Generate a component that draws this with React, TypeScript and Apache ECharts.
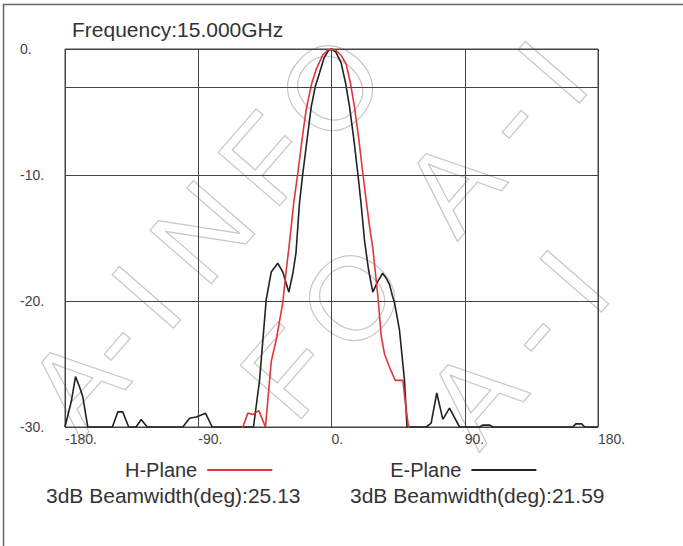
import React, { useEffect, useRef } from "react";
import * as echarts from "echarts";

// H-Plane (red) pattern: angle (deg) and gain (dB)
const hAngles = [
  -180, -62, -59.9, -56.5, -53.2, -49.1, -44.6, -40.7, -37.4, -33, -30.5, -28.5, -25.5, -22.8,
  -20, -17.1, -13.5, -10.3, -6, -2.5, 0, 3, 6.5, 9.9, 12.8, 15.5, 18.5, 21.2, 23.4, 25.6, 27.9,
  29.5, 31.3, 33.6, 35.8, 39, 43, 48.2, 50, 52, 52.8, 180,
];
const hDb = [
  -31, -31, -30, -28.9, -29.0, -28.7, -30, -24.8, -23.1, -20.2, -17.5, -15.5, -12.2, -9.9,
  -7.3, -4.8, -2.8, -1.6, -0.5, -0.08, 0, -0.1, -0.5, -1.2, -2.7, -4.6, -7.2, -9.9, -12, -14,
  -15.8, -17.6, -19.6, -22.8, -24.2, -25.2, -26.3, -26.3, -28.2, -30, -31, -31,
];

// E-Plane (black) pattern: angle (deg) and gain (dB)
const eAngles = [
  -180, -175.8, -172.9, -170.2, -168, -164.6, -148, -144.3, -141, -137, -132, -128.5, -124.5,
  -100.4, -95.9, -91.4, -89.2, -85.1, -80.6, -52.7, -48.6, -44.1, -40.7, -36.3, -32.9, -28.8,
  -26.1, -24, -21.6, -19.4, -16.5, -13.7, -11, -8.1, -5, -2, 0, 3, 6.5, 9.5, 12.2, 15, 17.8,
  20, 22.3, 25, 27.9, 31, 34.5, 37, 39.2, 41.4, 42.5, 45.9, 49.3, 51, 64, 67.3, 71.1, 75.2,
  79.7, 86.5, 100, 102, 107, 109, 163, 165, 169, 171, 180,
];
const eDb = [
  -30, -28, -26, -26.8, -27.6, -30, -30, -28.8, -28.8, -30, -30, -29.4, -30,
  -30, -29.3, -29.2, -29.1, -28.9, -30, -30, -26.3, -19.9, -17.7, -17.0, -17.7, -19.3,
  -17.8, -16.2, -12.2, -9.9, -7.2, -4.6, -3.0, -1.9, -0.7, -0.1, 0, -0.25, -1.1, -2.7, -4.6, -7.1, -9.9,
  -12.3, -15.2, -17.5, -19.3, -18.5, -17.8, -18.2, -18.7, -19.7, -20.1, -22.3, -26.3, -30, -30, -29.7, -27.3, -29.4,
  -28.5, -30, -30, -29.85, -29.85, -30, -30, -29.75, -29.75, -30, -30,
];

const threeDbLevel = -3;
const titleText = "Frequency:15.000GHz";
const hName = "H-Plane";
const eName = "E-Plane";
const hBeamwidth = "3dB Beamwidth(deg):25.13";
const eBeamwidth = "3dB Beamwidth(deg):21.59";

// watermark letters (decorative), each a [letter, x, y]
const watermarkLetters: [string, number, number][] = [
  ["A", 76, 384],
  ["-", 110, 340],
  ["I", 146, 297],
  ["N", 202, 232],
  ["F", 266, 159],
  ["O", 330, 88],
  ["F", 288, 372],
  ["O", 352, 298],
  ["A", 452, 185],
  ["-", 508, 118],
  ["I", 552, 72],
  ["A", 474, 396],
  ["-", 530, 331],
  ["I", 574, 281],
];

const FONT = "'Liberation Sans', Arial, sans-serif";

export default function App() {
  const ref = useRef<HTMLDivElement>(null);
  useEffect(() => {
    if (!ref.current) return;
    const chart = echarts.init(ref.current, null, { renderer: "svg" });
    const hData = hAngles.map((a, i) => [a, hDb[i]]);
    const eData = eAngles.map((a, i) => [a, eDb[i]]);
    const gridColor = "#444";
    const rot = (49 * Math.PI) / 180;
    const watermark = watermarkLetters.map(([t, x, y]) => ({
      type: "text",
      x,
      y,
      rotation: rot,
      z: -10,
      silent: true,
      style: {
        text: t,
        fontSize: 118,
        fontFamily: FONT,
        fill: "transparent",
        stroke: "#c8c8c8",
        lineWidth: 1.2,
        textAlign: "center",
        textVerticalAlign: "middle",
      },
    }));
    chart.setOption({
      animation: false,
      backgroundColor: "#fff",
      title: {
        text: titleText,
        left: 72,
        top: 19,
        padding: 0,
        textStyle: { fontSize: 21, fontWeight: "normal", color: "#333", fontFamily: FONT },
      },
      legend: {
        data: [hName, eName],
        left: 125,
        top: 460,
        padding: 0,
        align: "right",
        icon: "rect",
        itemWidth: 65,
        itemHeight: 2,
        itemGap: 118,
        selectedMode: false,
        textStyle: { fontSize: 20, color: "#333", fontFamily: FONT, padding: [0, 5, 0, 0] },
      },
      grid: {
        left: 65,
        top: 49,
        width: 533,
        height: 378,
        show: true,
        borderColor: gridColor,
        borderWidth: 1,
        backgroundColor: "transparent",
      },
      xAxis: {
        type: "value",
        min: -180,
        max: 180,
        interval: 90,
        axisLine: { show: false },
        axisTick: { show: false },
        splitLine: { show: true, lineStyle: { color: gridColor, width: 1 } },
        axisLabel: {
          formatter: (v: number) => `${v}.`,
          align: "left",
          margin: 5,
          fontSize: 14,
          color: "#444",
          fontFamily: FONT,
          showMinLabel: true,
          showMaxLabel: true,
        },
      },
      yAxis: {
        type: "value",
        min: -30,
        max: 0,
        interval: 10,
        axisLine: { show: false },
        axisTick: { show: false },
        splitLine: { show: true, lineStyle: { color: gridColor, width: 1 } },
        axisLabel: {
          formatter: (v: number) => `${v}.`,
          align: "left",
          margin: 45,
          fontSize: 14,
          color: "#444",
          fontFamily: FONT,
        },
      },
      series: [
        {
          name: eName,
          type: "line",
          data: eData,
          symbol: "none",
          showSymbol: false,
          clip: true,
          color: "#222",
          lineStyle: { color: "#222", width: 1.6 },
          markLine: {
            silent: true,
            symbol: ["none", "none"],
            label: { show: false },
            lineStyle: { color: gridColor, width: 1, type: "solid" },
            data: [{ yAxis: threeDbLevel }],
          },
        },
        {
          name: hName,
          type: "line",
          data: hData,
          symbol: "none",
          showSymbol: false,
          clip: true,
          color: "#e0353a",
          lineStyle: { color: "#e0353a", width: 1.6 },
        },
      ],
      graphic: [
        ...watermark,
        {
          type: "line",
          silent: true,
          shape: { x1: 3.5, y1: 4, x2: 3.5, y2: 546 },
          style: { stroke: "#666", lineWidth: 1.5 },
        },
        {
          type: "line",
          silent: true,
          shape: { x1: 3, y1: 4.5, x2: 683, y2: 4.5 },
          style: { stroke: "#666", lineWidth: 1.5 },
        },
        {
          type: "text",
          left: 46,
          top: 485,
          silent: true,
          style: { text: hBeamwidth, fontSize: 21, fill: "#333", fontFamily: FONT },
        },
        {
          type: "text",
          left: 350,
          top: 485,
          silent: true,
          style: { text: eBeamwidth, fontSize: 21, fill: "#333", fontFamily: FONT },
        },
      ],
    });
    return () => chart.dispose();
  }, []);
  return (
    <div
      ref={ref}
      style={{ position: "fixed", left: 0, top: 0, width: 683, height: 546, background: "#fff" }}
    />
  );
}
